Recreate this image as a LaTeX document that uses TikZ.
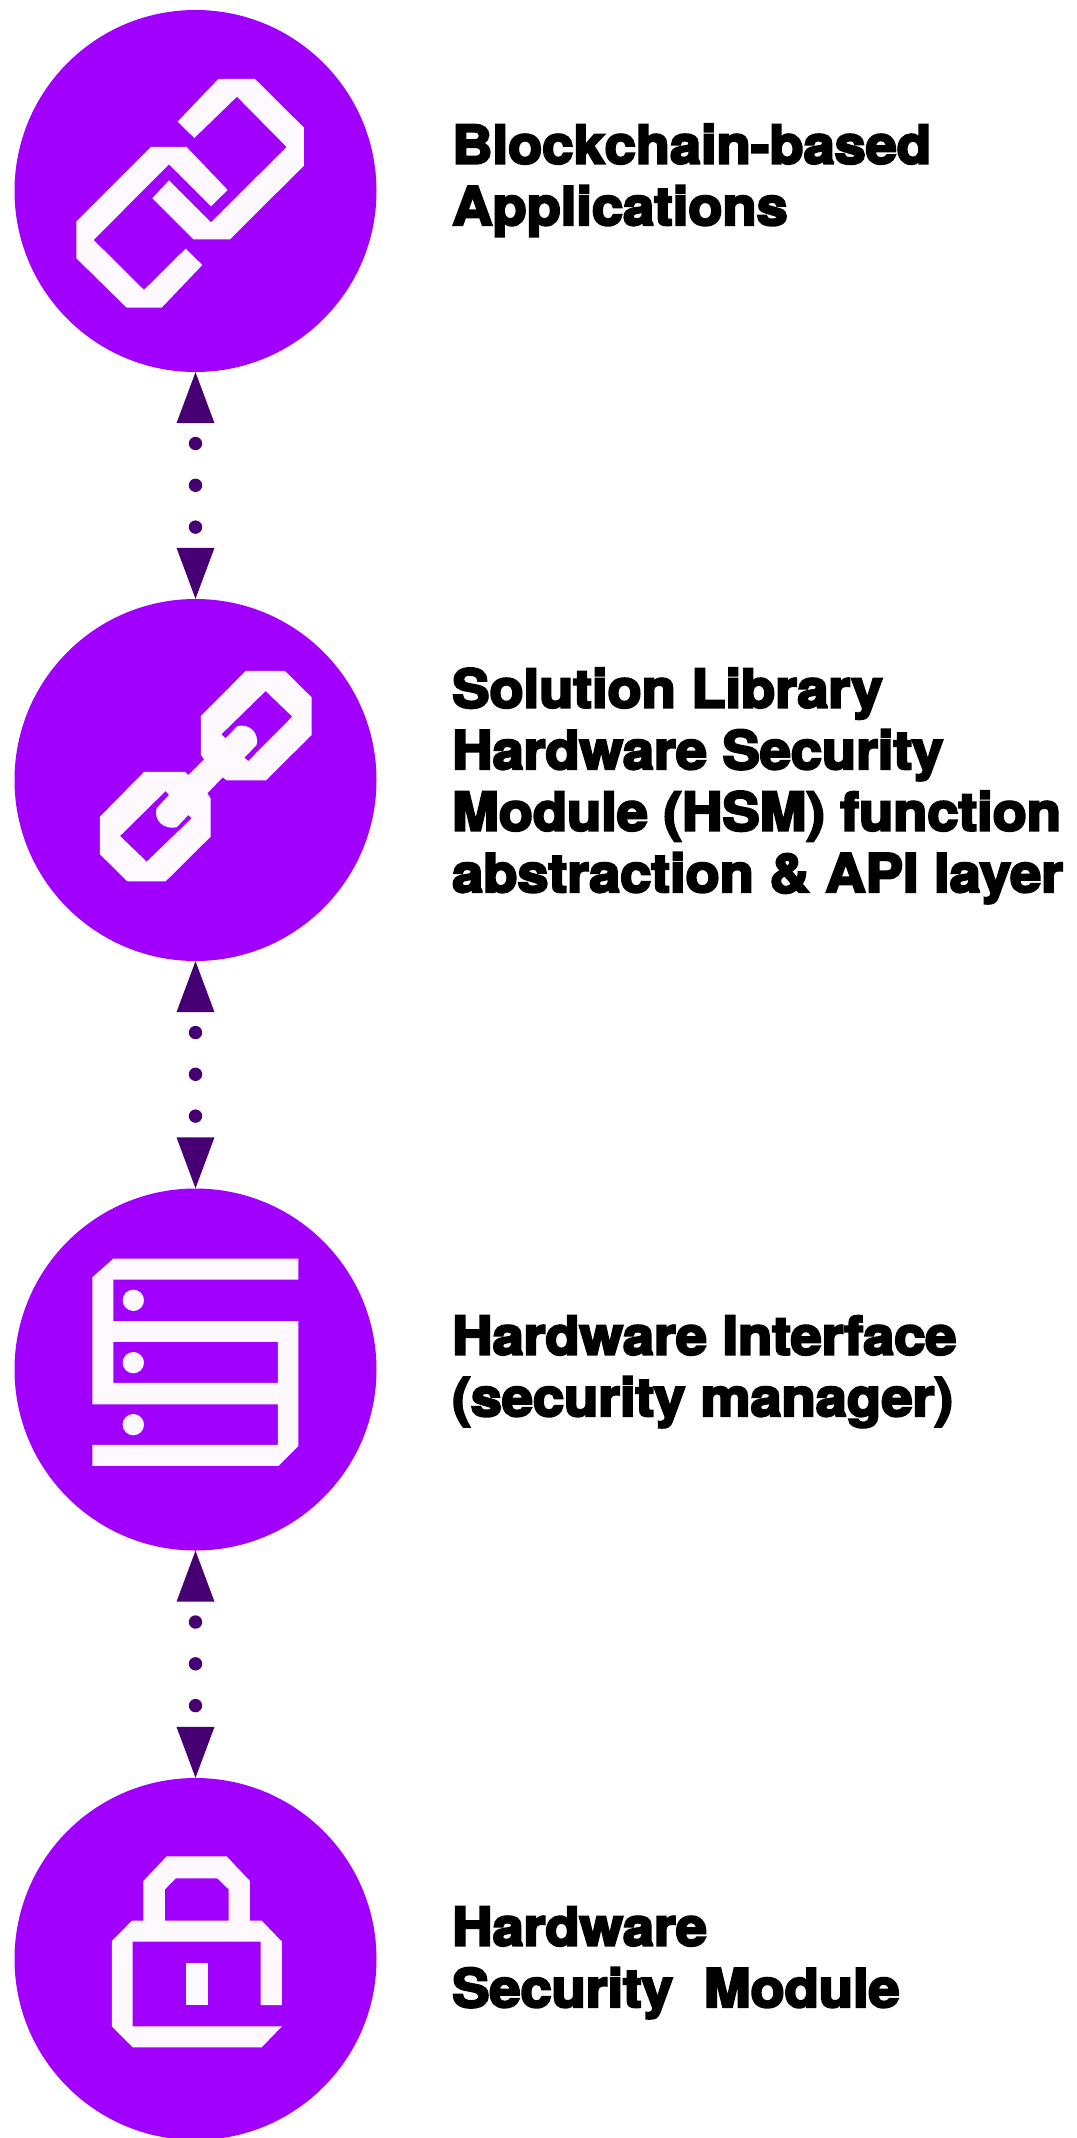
\documentclass[tikz,border=0pt]{standalone}
\usepackage{fontspec}
\setmainfont{TeX Gyre Heros}[BoldFeatures={FakeBold=4.5,FakeStretch=1.055}]
\usetikzlibrary{arrows.meta}
\definecolor{stackpurple}{HTML}{A100FF}
\definecolor{linkpurple}{HTML}{460073}
\definecolor{iconwhite}{HTML}{FDF9FF}
\tikzset{
	layer/.style={circle,fill=stackpurple,minimum size=362pt,inner sep=0pt},
	caption/.style={anchor=base west,inner sep=0pt,align=left,font=\fontsize{53}{61.5}\selectfont\bfseries},
	link/.style={{Triangle[length=51pt,width=38pt,line width=0pt]}-{Triangle[length=51pt,width=38pt,line width=0pt]},
		linkpurple,line width=13.4pt,line cap=round,dash pattern=on 0pt off 41.8pt,dash phase=21.5pt},
	icon/.style={fill=iconwhite,even odd rule},
}
\begin{document}
\begin{tikzpicture}[x=1pt,y=-1pt]
	\useasboundingbox (0,0) rectangle (1076,2138);
	\begin{scope}
		\clip (0,0) rectangle (1076,2138);
		\node[layer] (apps) at (195.5,191) {};
		\node[layer] (library) at (195.5,780) {};
		\node[layer] (interface) at (195.5,1369.5) {};
		\node[layer] (hsm) at (195.5,1959) {};
	\end{scope}
	\draw[link] (apps) -- (library);
	\draw[link] (library) -- (interface);
	\draw[link] (interface) -- (hsm);
	% open chain
	\begin{scope}[shift={(0,0)},x=.3333pt,y=-.3333pt]
		\fill[icon] (533,365)--(655,237)--(765,237)--(912,383)--(912,497)--(690,718)--(580,718)--(457,595)--(507,541)--(633,667)--(860,441)--(711,290)--(583,414)--cycle;
		\fill[icon] (683,570)--(560,441)--(453,441)--(229,665)--(229,775)--(380,923)--(485,923)--(607,795)--(557,746)--(432,870)--(281,720)--(507,493)--(633,619)--cycle;
	\end{scope}
	% closed chain
	\begin{scope}[shift={(0,590)},x=.3333pt,y=-.3333pt]
		\fill[icon] (737,243)--(855,243)--(935,322)--(935,435)--(798,571)--(680,571)--(668,562)--(622,610)--(632,625)--(632,740)--(497,874)--(382,874)--(300,793)--(300,680)--(432,546)--(555,546)--(565,555)--(612,508)--(603,495)--(603,378)--cycle
			(797,303)--(877,380)--(745,513)--(733,503)--(770,465) .. controls (778,430) and (750,400) .. (712,408)--(677,445)--(664,433)--cycle
			(360,738)--(497,603)--(507,615)--(470,655) .. controls (460,690) and (490,720) .. (530,712)--(565,675)--(575,685)--(440,815)--cycle;
	\end{scope}
	% server rack
	\begin{scope}[shift={(0,1180)},x=.3333pt,y=-.3333pt]
		\fill[icon] (340,236)--(895,236)--(895,299)--(340,299)--(340,423)--(895,423)--(895,798)--(835,858)--(277,858)--(277,795)--(834,795)--(834,673)--(277,673)--(277,292)--cycle
			(340,486)--(834,486)--(834,609)--(340,609)--cycle;
		\foreach \y in {361,548,734}
			\fill[icon] (400,\y) circle (32);
	\end{scope}
	% padlock
	\begin{scope}[shift={(0,1770)},x=.3333pt,y=-.3333pt]
		\fill[icon] (430,333)--(500,259)--(680,259)--(750,333)--(750,452)--(785,452)--(846,515)--(846,705)--(782,705)--(782,515)--(398,515)--(398,769)--(846,769)--(785,832)--(398,832)--(336,770)--(336,513)--(396,452)--(430,452)--cycle
			(495,452)--(495,358)--(527,325)--(652,325)--(686,358)--(686,452)--cycle;
		\fill[icon] (559,579) rectangle (623,705);
	\end{scope}
	\node[caption] (appstext) at (452,225) {Blockchain-based\\Applications};
	\node[caption] (librarytext) at (452,892) {Solution Library\\Hardware Security\\Module (HSM) function\\abstraction \& API layer};
	\node[caption] (interfacetext) at (452,1416) {Hardware Interface\\(security manager)};
	\node[caption] (hsmtext) at (452,2007) {Hardware\\Security\ \ Module};
\end{tikzpicture}
\end{document}
